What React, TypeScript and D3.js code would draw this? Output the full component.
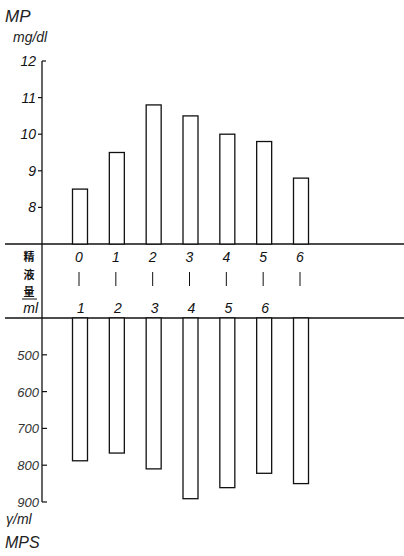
import React, { useEffect, useRef } from 'react';
import * as d3 from 'd3';

// semen volume classes (ml): lower bound / upper bound
const volLower = ['0', '1', '2', '3', '4', '5', '6'];
const volUpper = ['1', '2', '3', '4', '5', '6', ''];
// MP (mg/dl), upper panel
const mpValues = [8.5, 9.5, 10.8, 10.5, 10.0, 9.8, 8.8];
// MPS (γ/ml), lower panel
const mpsValues = [788, 767, 810, 891, 861, 822, 850];
const mpTicks = [8, 9, 10, 11, 12];
const mpsTicks = [500, 600, 700, 800, 900];

const FONT = '"Liberation Sans", "DejaVu Sans", sans-serif';

const App = () => {
  const svgRef = useRef(null);

  useEffect(() => {
    const svg = d3.select(svgRef.current);
    svg.selectAll('*').remove();

    const axisX = 42;
    const topBase = 244;
    const botBase = 318;
    const barW = 15;

    const xScale = d3.scaleLinear().domain([0, 6]).range([80, 301]);
    const yTop = d3.scaleLinear().domain([7, 12]).range([topBase, 61]);
    const yBot = d3.scaleLinear().domain([400, 900]).range([botBase, 502]);

    const ink = '#111';

    // horizontal separator lines
    svg.append('line')
      .attr('x1', 5).attr('x2', 404)
      .attr('y1', topBase).attr('y2', topBase)
      .attr('stroke', ink).attr('stroke-width', 1.3);
    svg.append('line')
      .attr('x1', 5).attr('x2', 404)
      .attr('y1', botBase).attr('y2', botBase)
      .attr('stroke', ink).attr('stroke-width', 1.3);

    // vertical axis through all panels
    svg.append('line')
      .attr('x1', axisX).attr('x2', axisX)
      .attr('y1', yTop(12)).attr('y2', yBot(900))
      .attr('stroke', ink).attr('stroke-width', 1.3);

    // top axis ticks
    svg.selectAll('.tt')
      .data(mpTicks)
      .enter()
      .append('line')
      .attr('x1', (d) => (d === 12 ? axisX : axisX - 4))
      .attr('x2', (d) => (d === 12 ? axisX + 4 : axisX))
      .attr('y1', (d) => yTop(d))
      .attr('y2', (d) => yTop(d))
      .attr('stroke', ink).attr('stroke-width', 1.2);

    svg.selectAll('.tl')
      .data(mpTicks)
      .enter()
      .append('text')
      .attr('x', axisX - 6)
      .attr('y', (d) => yTop(d) + 5)
      .attr('text-anchor', 'end')
      .attr('font-family', FONT)
      .attr('font-style', 'italic')
      .attr('font-size', 14)
      .attr('fill', ink)
      .text((d) => d);

    // bottom axis ticks
    svg.selectAll('.bt')
      .data(mpsTicks)
      .enter()
      .append('line')
      .attr('x1', axisX)
      .attr('x2', axisX + 5)
      .attr('y1', (d) => yBot(d))
      .attr('y2', (d) => yBot(d))
      .attr('stroke', ink).attr('stroke-width', 1.2);

    svg.selectAll('.bl')
      .data(mpsTicks)
      .enter()
      .append('text')
      .attr('x', axisX - 3)
      .attr('y', (d) => yBot(d) + 5)
      .attr('text-anchor', 'end')
      .attr('font-family', FONT)
      .attr('font-style', 'italic')
      .attr('font-size', 13)
      .attr('fill', '#333')
      .text((d) => d);

    // upper bars (MP)
    svg.selectAll('.mp')
      .data(mpValues)
      .enter()
      .append('rect')
      .attr('x', (d, i) => xScale(i) - barW / 2)
      .attr('y', (d) => yTop(d))
      .attr('width', barW)
      .attr('height', (d) => topBase - yTop(d))
      .attr('fill', 'white')
      .attr('stroke', ink)
      .attr('stroke-width', 1.3);

    // lower bars (MPS), hanging downwards
    svg.selectAll('.mps')
      .data(mpsValues)
      .enter()
      .append('rect')
      .attr('x', (d, i) => xScale(i) - barW / 2)
      .attr('y', botBase)
      .attr('width', barW)
      .attr('height', (d) => yBot(d) - botBase)
      .attr('fill', 'white')
      .attr('stroke', ink)
      .attr('stroke-width', 1.3);

    // category labels in the middle band
    const txt = (sel) => sel
      .attr('text-anchor', 'middle')
      .attr('font-family', FONT)
      .attr('font-style', 'italic')
      .attr('font-size', 14)
      .attr('fill', ink);

    svg.selectAll('.lo')
      .data(volLower)
      .enter()
      .append('text')
      .attr('x', (d, i) => xScale(i) - 1)
      .attr('y', 262)
      .call(txt)
      .text((d) => d);

    svg.selectAll('.dash')
      .data(volLower)
      .enter()
      .append('line')
      .attr('x1', (d, i) => xScale(i) - 1)
      .attr('x2', (d, i) => xScale(i) - 1)
      .attr('y1', 272)
      .attr('y2', 286)
      .attr('stroke', ink).attr('stroke-width', 1);

    svg.selectAll('.hi')
      .data(volUpper)
      .enter()
      .append('text')
      .attr('x', (d, i) => xScale(i) + 1)
      .attr('y', 313)
      .call(txt)
      .text((d) => d);

    // middle-band row title
    const cjk = '"Noto Sans CJK JP", "Noto Sans CJK SC", sans-serif';
    [['精', 261], ['液', 279], ['量', 296]].forEach(([ch, y]) => {
      svg.append('text')
        .attr('x', 29).attr('y', y)
        .attr('text-anchor', 'middle')
        .attr('font-family', cjk)
        .attr('font-weight', 'bold')
        .attr('font-size', 11)
        .attr('fill', ink)
        .text(ch);
    });
    svg.append('line')
      .attr('x1', 22).attr('x2', 37)
      .attr('y1', 299).attr('y2', 299)
      .attr('stroke', ink).attr('stroke-width', 1);
    svg.append('text')
      .attr('x', 38).attr('y', 313)
      .attr('text-anchor', 'end')
      .attr('font-family', FONT)
      .attr('font-style', 'italic')
      .attr('font-size', 14)
      .attr('fill', ink)
      .text('ml');

    // axis titles
    const title = (x, y, s, size) => svg.append('text')
      .attr('x', x).attr('y', y)
      .attr('font-family', FONT)
      .attr('font-style', 'italic')
      .attr('font-size', size)
      .attr('fill', '#222')
      .text(s);
    title(5, 22, 'MP', 17);
    title(13, 42, 'mg/dl', 14);
    title(6, 524, 'γ/ml', 14);
    title(5, 548, 'MPS', 16);
  }, []);

  return (
    <svg
      ref={svgRef}
      width={404}
      height={556}
      style={{ position: 'absolute', left: 0, top: 0, background: 'white' }}
    ></svg>
  );
};

export default App;
